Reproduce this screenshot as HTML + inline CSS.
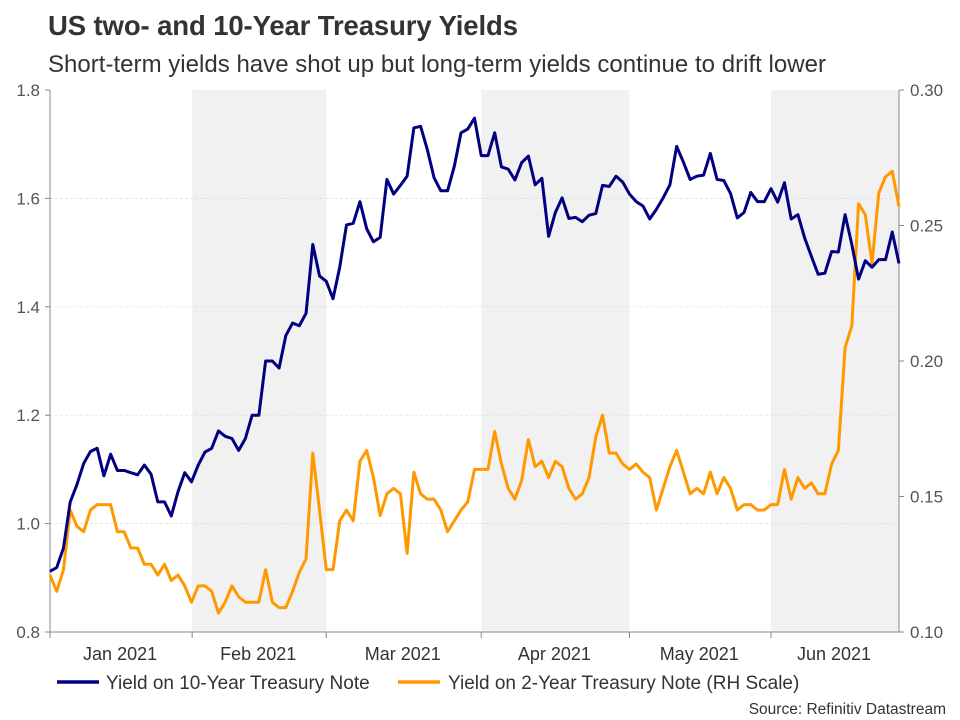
<!DOCTYPE html>
<html><head><meta charset="utf-8"><style>
body{margin:0;background:#fff;width:960px;height:720px;overflow:hidden;font-family:"Liberation Sans",sans-serif}
svg{display:block}
</style></head><body>
<svg id="chart" width="960" height="720">
<text x="48" y="35" font-size="27.5" font-weight="bold" fill="#333" textLength="470">US two- and 10-Year Treasury Yields</text>
<text x="48" y="72" font-size="24" fill="#333" textLength="778">Short-term yields have shot up but long-term yields continue to drift lower</text>
<g id="bands"></g><g id="grid"></g><g id="axes"></g><g id="lines"></g>
<g>
<line x1="57" y1="682" x2="99" y2="682" stroke="#000080" stroke-width="3.5"/>
<text x="106" y="689" font-size="19" fill="#333">Yield on 10-Year Treasury Note</text>
<line x1="398" y1="682" x2="440" y2="682" stroke="#FF9900" stroke-width="3.5"/>
<text x="448" y="689" font-size="19" fill="#333">Yield on 2-Year Treasury Note (RH Scale)</text>
</g>
<text x="946" y="714" font-size="15.5" fill="#333" text-anchor="end">Source: Refinitiv Datastream</text>
</svg>
<script>
const tenYear=[0.912,0.919,0.955,1.040,1.072,1.111,1.133,1.139,1.088,1.128,1.098,1.098,1.094,1.090,1.108,1.091,1.040,1.040,1.014,1.059,1.094,1.077,1.108,1.132,1.139,1.171,1.161,1.157,1.135,1.157,1.200,1.200,1.300,1.300,1.287,1.347,1.370,1.365,1.388,1.515,1.457,1.447,1.415,1.473,
1.551,1.554,1.594,1.544,1.520,1.528,1.635,1.608,1.624,1.641,1.730,1.733,1.690,1.638,1.614,1.614,1.659,1.721,1.728,1.748,1.679,1.679,1.721,1.658,1.654,1.634,1.666,1.678,1.625,1.637,1.530,1.574,1.601,1.563,1.565,1.557,1.569,1.572,1.624,1.622,
1.641,1.630,1.608,1.594,1.586,1.562,1.580,1.601,1.625,1.696,1.667,1.635,1.641,1.643,1.683,1.635,1.633,1.609,1.564,1.574,1.611,1.594,1.594,1.618,1.593,1.629,1.562,1.570,1.527,1.493,1.460,1.462,1.502,1.501,1.570,1.515,1.451,1.485,1.473,1.487,1.487,1.538,1.480];
const twoYear=[0.121,0.115,0.123,0.145,0.139,0.137,0.145,0.147,0.147,0.147,0.137,0.137,0.131,0.131,0.125,0.125,0.121,0.125,0.119,0.121,0.117,0.111,0.117,0.117,0.115,0.107,0.111,0.117,0.113,0.111,0.111,0.111,0.123,0.111,0.109,0.109,0.115,0.122,0.127,0.166,0.145,0.123,0.123,0.141,
0.145,0.141,0.163,0.167,0.157,0.143,0.151,0.153,0.151,0.129,0.159,0.151,0.149,0.149,0.145,0.137,0.141,0.145,0.148,0.160,0.160,0.160,0.174,0.162,0.153,0.149,0.156,0.171,0.161,0.163,0.157,0.163,0.161,0.153,0.149,0.151,0.157,0.172,0.180,0.166,
0.166,0.162,0.160,0.162,0.159,0.157,0.145,0.153,0.161,0.167,0.159,0.151,0.153,0.151,0.159,0.151,0.157,0.153,0.145,0.147,0.147,0.145,0.145,0.147,0.147,0.160,0.149,0.157,0.153,0.155,0.151,0.151,0.162,0.167,0.205,0.213,0.258,0.254,0.236,0.262,0.268,0.270,0.257];
const leftTicks=[0.8,1.0,1.2,1.4,1.6,1.8];
const rightTicks=[0.10,0.15,0.20,0.25,0.30];
const monthLabels=["Jan 2021","Feb 2021","Mar 2021","Apr 2021","May 2021","Jun 2021"];
const monthStart=[-1,21.1,41,64,86,107];
const L=50,R=899,T=90,B=632,N=tenYear.length;
const xs=i=>L+i*(R-L)/(N-1);
const yl=v=>B-(v-0.8)/(1.0)*(B-T);
const yr=v=>B-(v-0.10)/(0.20)*(B-T);
const NS="http://www.w3.org/2000/svg";
function mk(tag,attrs,parent){const e=document.createElementNS(NS,tag);for(const k in attrs)e.setAttribute(k,attrs[k]);document.getElementById(parent).appendChild(e);return e;}
[1,3,5].forEach(m=>{const x0=Math.max(L,xs(monthStart[m]));const x1=m+1<monthStart.length?xs(monthStart[m+1]):R;
const r=mk('rect',{x:x0,y:T,width:x1-x0,height:B-T,fill:'#f1f1f1'},'bands');

});
leftTicks.forEach(v=>{const y=yl(v);
if(v>0.8&&v<1.8){const g=mk('line',{x1:L,x2:R,y1:y,y2:y,stroke:'#ddd','stroke-dasharray':'3,2','stroke-width':0.7},'grid');}
mk('line',{x1:L-5,x2:L,y1:y,y2:y,stroke:'#888'},'axes');
const t=mk('text',{x:40,y:y+6,'font-size':17,fill:'#555','text-anchor':'end'},'axes');t.textContent=v.toFixed(1);
});
rightTicks.forEach(v=>{const y=yr(v);
mk('line',{x1:R,x2:R+5,y1:y,y2:y,stroke:'#888'},'axes');
const t=mk('text',{x:910,y:y+6,'font-size':17,fill:'#555'},'axes');t.textContent=v.toFixed(2);
});
mk('line',{x1:L,x2:L,y1:T,y2:B,stroke:'#888'},'axes');
mk('line',{x1:R,x2:R,y1:T,y2:B,stroke:'#888'},'axes');
mk('line',{x1:L,x2:R,y1:B,y2:B,stroke:'#888'},'axes');
monthLabels.forEach((m,i)=>{const x0=Math.max(L,xs(monthStart[i]));const x1=i+1<monthStart.length?xs(monthStart[i+1]):R;
mk('line',{x1:x0,x2:x0,y1:B,y2:B+6,stroke:'#888'},'axes');
const t=mk('text',{x:(x0+x1)/2-1,y:660,'font-size':18,fill:'#333','text-anchor':'middle'},'axes');t.textContent=m;
});
const p2=mk('polyline',{points:twoYear.map((v,i)=>xs(i)+','+yr(v)).join(' '),fill:'none',stroke:'#FF9900','stroke-width':3,'stroke-linejoin':'round'},'lines');

const p10=mk('polyline',{points:tenYear.map((v,i)=>xs(i)+','+yl(v)).join(' '),fill:'none',stroke:'#000080','stroke-width':3,'stroke-linejoin':'round'},'lines');

</script>
</body></html>
